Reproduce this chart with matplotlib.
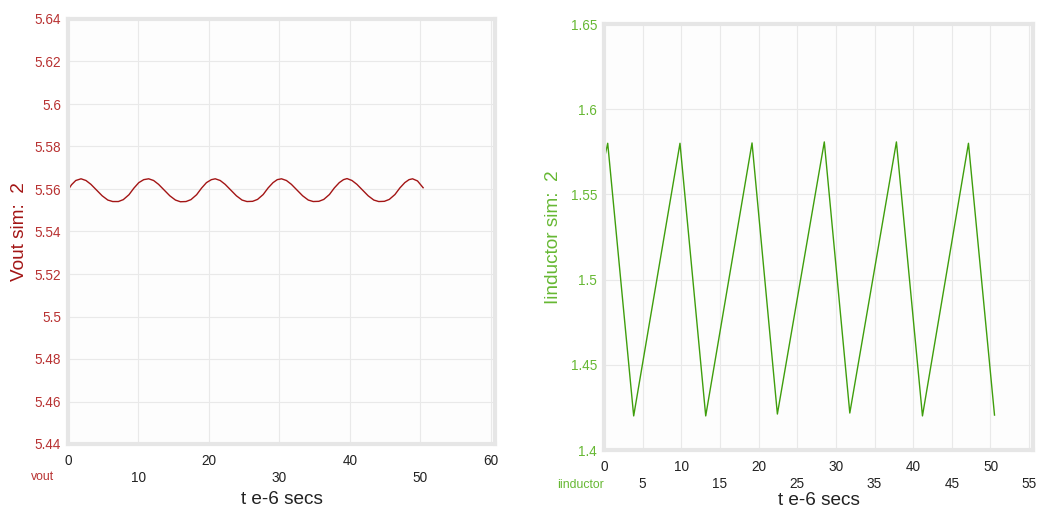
import matplotlib
matplotlib.use("Agg")
import matplotlib.pyplot as plt

plt.rcParams['font.family'] = ['Liberation Sans', 'DejaVu Sans']

# vout trace, t in e-6 s
vout_t = [0.0, 0.5, 1.1, 1.85, 2.55, 3.25, 4.05, 4.85, 5.65, 6.35, 7.15, 7.85, 8.65, 9.35, 10.05, 10.75, 11.45,
          12.15, 12.85, 13.65, 14.45, 15.25, 15.95, 16.75, 17.45, 18.25, 18.95, 19.65, 20.35, 20.9,
          21.6, 22.3, 23.1, 23.9, 24.7, 25.4, 26.2, 26.9, 27.7, 28.4, 29.1, 29.7, 30.3,
          31.0, 31.7, 32.5, 33.3, 34.1, 34.8, 35.6, 36.3, 37.1, 37.8, 38.5, 39.1, 39.6,
          40.3, 41.0, 41.8, 42.6, 43.4, 44.1, 44.9, 45.6, 46.4, 47.1, 47.8, 48.4, 48.9,
          49.6, 50.4]
vout_v = [5.5595, 5.5620, 5.5640, 5.5648, 5.5640, 5.5622, 5.5595, 5.5568, 5.5548, 5.5541, 5.5541, 5.5550,
          5.5573, 5.5604, 5.5630, 5.5644, 5.5648,
          5.5640, 5.5622, 5.5595, 5.5568, 5.5548, 5.5540, 5.5541, 5.5550, 5.5573, 5.5604, 5.5630, 5.5644, 5.5648,
          5.5640, 5.5622, 5.5595, 5.5568, 5.5548, 5.5541, 5.5542, 5.5551, 5.5574, 5.5605, 5.5630, 5.5644, 5.5648,
          5.5640, 5.5622, 5.5595, 5.5568, 5.5548, 5.5541, 5.5542, 5.5551, 5.5574, 5.5605, 5.5630, 5.5644, 5.5649,
          5.5640, 5.5622, 5.5595, 5.5568, 5.5548, 5.5541, 5.5542, 5.5551, 5.5574, 5.5605, 5.5630, 5.5644, 5.5648,
          5.5638, 5.5606]

# inductor current trace
il_t = [0.0, 0.48, 3.84, 9.83, 13.16, 19.15, 22.43, 28.5, 31.8, 37.83, 41.2, 47.15, 50.52]
il_v = [1.570, 1.580, 1.420, 1.580, 1.420, 1.5802, 1.4211, 1.5808, 1.4217, 1.5808, 1.420, 1.580, 1.4205]

vout_xticks = [0, 10, 20, 30, 40, 50, 60]
vout_yticks = [5.44, 5.46, 5.48, 5.5, 5.52, 5.54, 5.56, 5.58, 5.6, 5.62, 5.64]
il_xticks = [0, 5, 10, 15, 20, 25, 30, 35, 40, 45, 50, 55]
il_yticks = [1.4, 1.45, 1.5, 1.55, 1.6, 1.65]

red = '#a31515'
red_txt = '#b83232'
green = '#3f9e0c'
green_txt = '#66b833'
frame = '#e6e6e6'
grid = '#e9e9e9'


def fmt(v):
    s = ('%.2f' % v).rstrip('0').rstrip('.')
    return s


def style_axes(ax, xticks, yticks, xlim, ylim, tick_color):
    ax.set_facecolor('#fdfdfd')
    ax.set_xlim(*xlim)
    ax.set_ylim(*ylim)
    ax.set_xticks(xticks)
    ax.set_xticklabels([str(x) if i % 2 == 0 else '\n' + str(x) for i, x in enumerate(xticks)],
                       fontsize=9.8, color='#222222', linespacing=1.3)
    ax.set_yticks(yticks)
    ax.set_yticklabels([fmt(y) for y in yticks], fontsize=9.8, color=tick_color)
    ax.tick_params(length=0)
    ax.tick_params(axis='y', pad=5)
    ax.tick_params(axis='x', pad=7)
    ax.grid(True, color=grid, linewidth=0.8)
    ax.set_axisbelow(True)
    for sp in ax.spines.values():
        sp.set_color(frame)
        sp.set_linewidth(3)


fig = plt.figure(figsize=(10.37, 5.11), dpi=100)

ax1 = fig.add_axes([68 / 1037, 1 - 444 / 511, 427 / 1037, 425 / 511])
ax1.plot(vout_t, vout_v, color=red, linewidth=1.0)
style_axes(ax1, vout_xticks, vout_yticks, (0, 60.6), (5.44, 5.64), red_txt)
ax1.set_ylabel('Vout sim:  2', fontsize=13.7, color=red)
ax1.yaxis.set_label_coords(-0.093, 0.5)
ax1.set_xlabel('t e-6 secs', fontsize=13.7, color='#222222', labelpad=4)
fig.text(43 / 1037, 1 - 477 / 511, 'vout', fontsize=8.8, color=red_txt, ha='center', va='center')

ax2 = fig.add_axes([604 / 1037, 1 - 450 / 511, 429 / 1037, 426 / 511])
ax2.plot(il_t, il_v, color=green, linewidth=1.0)
style_axes(ax2, il_xticks, il_yticks, (0, 55.5), (1.4, 1.65), green_txt)
ax2.set_ylabel('Iinductor sim:  2', fontsize=13.7, color=green_txt)
ax2.yaxis.set_label_coords(-0.097, 0.5)
ax2.set_xlabel('t e-6 secs', fontsize=13.7, color='#222222', labelpad=1)
fig.text(580 / 1037, 1 - 485 / 511, 'iinductor', fontsize=8.8, color=green_txt, ha='center', va='center')

fig.savefig('out.png', dpi=100, facecolor='white')
